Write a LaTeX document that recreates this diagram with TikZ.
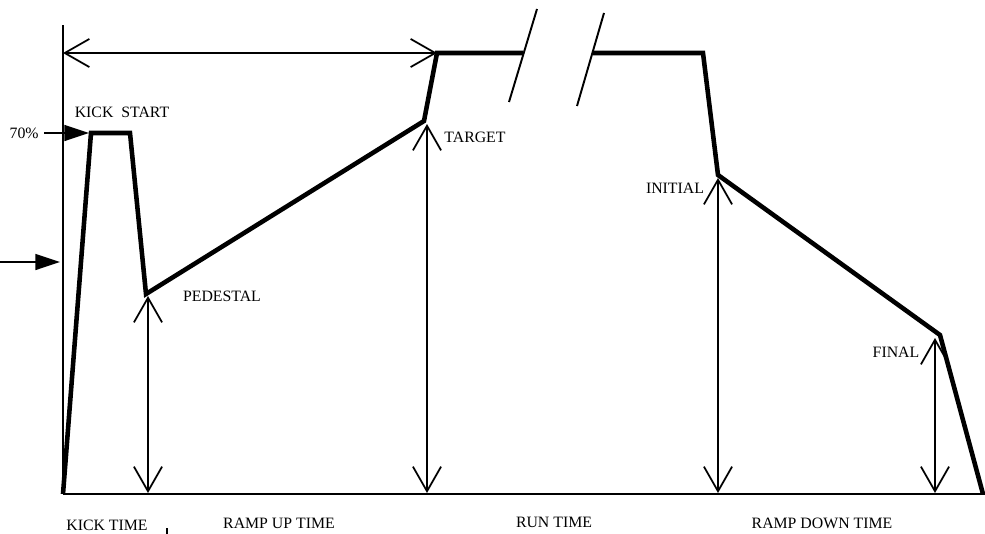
\documentclass[tikz,border=0pt]{standalone}
\usepackage{fontspec}
\setmainfont{Liberation Serif}
\usetikzlibrary{arrows.meta}

\begin{document}
\begin{tikzpicture}[x=0.02cm, y=-0.02cm,
  wave/.style={black, line width=2.6pt, line join=miter},
  dimarrow/.style={black, line width=1pt, {Straight Barb[length=14pt,width=16pt]}-{Straight Barb[length=14pt,width=16pt]}},
  pointer/.style={black, line width=1.2pt, -{Triangle[length=14pt,width=9pt]}},
  lbl/.style={font=\fontsize{9}{10}\selectfont, inner sep=0pt}]
\useasboundingbox (0,0) rectangle (985,534);
% axes
\draw[line width=1.1pt] (63,25) -- (63,494);
\draw[line width=1.2pt] (63,494) -- (985,494);
% waveform corners
\coordinate (o) at (63,494);
\coordinate (kickA) at (91,133);
\coordinate (kickB) at (130,133);
\coordinate (ped) at (146,294);
\coordinate (tgt) at (424,121);
\coordinate (runA) at (437,53);
\coordinate (brkA) at (523,53);
\coordinate (brkB) at (593,53);
\coordinate (runB) at (703,53);
\coordinate (init) at (718,175);
\coordinate (fin) at (940,335);
\coordinate (end) at (983,494);
\draw[wave] (o) -- (kickA) -- (kickB) -- (ped) -- (tgt) -- (runA) -- (brkA);
\draw[wave] (brkB) -- (runB) -- (init) -- (fin) -- (end);
% break marks
\draw[line width=1.1pt] (537,9) -- (509,102);
\draw[line width=1.1pt] (604,13) -- (577,106);
% ramp up span
\draw[dimarrow] (63,53) -- (runA);
% level arrows
\draw[dimarrow] (148,296) -- (148,493);
\draw[dimarrow] (427,124) -- (427,493);
\draw[dimarrow] (718,178) -- (718,493);
\draw[dimarrow] (935,338) -- (935,493);
% pointers
\node[lbl, anchor=east] (pct) at (39,133) {70\%};
\draw[pointer] ([xshift=3pt]pct.east) -- (89,133);
\coordinate (inleft) at (0,262);
\draw[pointer] (inleft) -- (60,262);
% labels
\node[lbl] (kick) at (122,112) {KICK\ \ START};
\node[lbl] (pedl) at (222,296) {PEDESTAL};
\node[lbl] (tgtl) at (475,137) {TARGET};
\node[lbl] (initl) at (675,188) {INITIAL};
\node[lbl] (finl) at (896,352) {FINAL};
\node[lbl] (tkick) at (107,525) {KICK TIME};
\node[lbl] (tup) at (279,523) {RAMP UP TIME};
\node[lbl] (trun) at (554,522) {RUN TIME};
\node[lbl] (tdown) at (822,523) {RAMP DOWN TIME};
\draw[line width=1.1pt] (167,528) -- (167,534);
\end{tikzpicture}
\end{document}
